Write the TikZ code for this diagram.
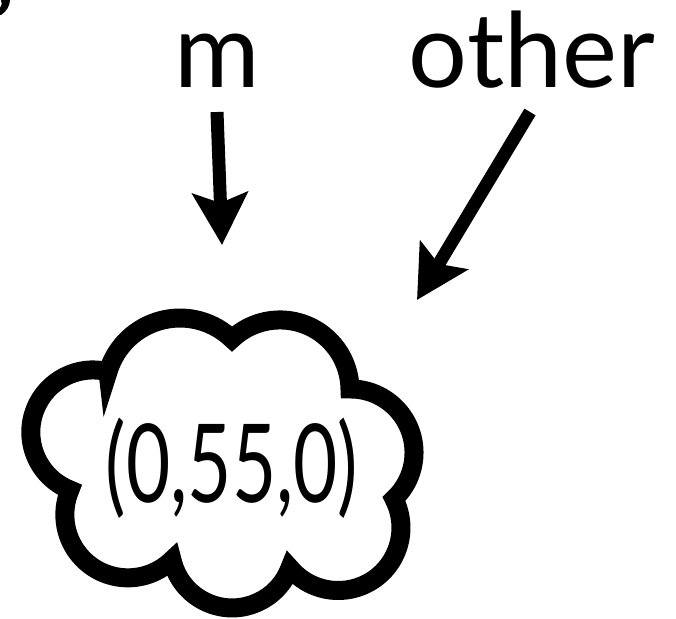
\documentclass[tikz,border=0pt]{standalone}
\usepackage{fontspec}
\usepackage{graphicx}
\setmainfont{Lato}
\usetikzlibrary{arrows.meta, positioning}

\begin{document}
\begin{tikzpicture}[
  x=1pt, y=1pt,
  word/.style={inner sep=0pt, anchor=base, font=\fontsize{104}{110}\selectfont},
  ptr/.style={line width=13pt, -{Stealth[length=52pt, width=55pt, inset=10pt]}},
  puff/.style={line width=19pt, line join=miter}
]
  \useasboundingbox (0,0) rectangle (676,618);

  % cut-off mark in the corner
  \fill (1,618) -- (10,618) .. controls (10,612) and (6,606) .. (1,603) -- (0,603) -- (0,610) .. controls (2,613) .. (1,618);

  \node[word] (m)     at (217,530) {m};
  \node[word] (other) at (532,530) {other};

  \coordinate (mtip)     at (222,373);
  \coordinate (othertip) at (417,318);

  \draw[ptr] (m.south |- 0,506) -- (mtip);
  \draw[ptr] (530,506) -- (othertip);

  % cloud, one arc per puff
  \draw[puff] (108,246)
    arc[start angle=163.7, end angle=46.1, radius=75]
    arc[start angle=133.3, end angle=0.8, radius=70]
    arc[start angle=90.4, end angle=-46.8, radius=63.6]
    arc[start angle=27.3, end angle=-140.2, radius=62.8]
    arc[start angle=-20.6, end angle=-167.2, radius=61.7]
    arc[start angle=-45.7, end angle=-203.2, radius=63.1]
    arc[start angle=248.2, end angle=76.1, radius=62.2] -- cycle;

  \node[word, font=\fontsize{109}{115}\selectfont] (val) at (232,116) {\scalebox{0.7}[1]{(0,55,0)}};
\end{tikzpicture}
\end{document}
